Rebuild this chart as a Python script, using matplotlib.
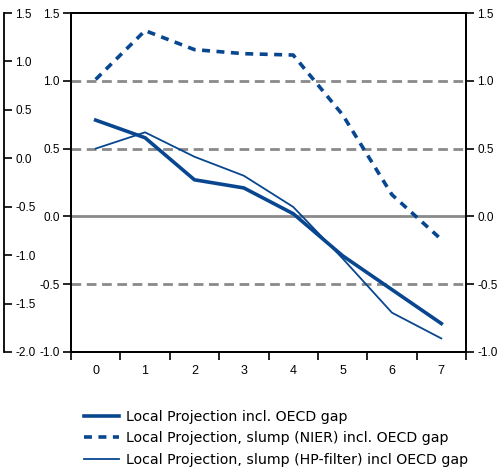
import matplotlib.pyplot as plt
import numpy as np

horizons = ["0", "1", "2", "3", "4", "5", "6", "7"]
lp_gap = [0.71, 0.58, 0.27, 0.21, 0.02, -0.29, -0.54, -0.79]
lp_nier = [1.01, 1.37, 1.23, 1.20, 1.19, 0.75, 0.16, -0.17]
lp_hp = [0.50, 0.62, 0.44, 0.30, 0.07, -0.31, -0.71, -0.90]

labels = ["Local Projection incl. OECD gap",
          "Local Projection, slump (NIER) incl. OECD gap",
          "Local Projection, slump (HP-filter) incl OECD gap"]

blue = "#08478f"
grey = "#8a8a8a"

plt.rcParams["font.family"] = ["Liberation Sans", "DejaVu Sans"]

fig = plt.figure(figsize=(4.99, 4.71), dpi=100)
ax = fig.add_axes([71 / 499, 1 - 352 / 471, 395 / 499, 339 / 471])

x = np.arange(len(horizons))
ax.set_xlim(-0.5, len(horizons) - 0.5)
ax.set_ylim(-1.0, 1.5)

# reference lines
for yv in [1.0, 0.5, -0.5]:
    ax.axhline(yv, color=grey, lw=2, ls=(0, (3.5, 2)), zorder=1)
ax.axhline(0.0, color=grey, lw=2, zorder=1)

l1, = ax.plot(x, lp_gap, color=blue, lw=2.6, zorder=3)
l2, = ax.plot(x, lp_nier, color=blue, lw=2.6, dashes=(2.2, 1.8), zorder=3)
l3, = ax.plot(x, lp_hp, color=blue, lw=1.3, zorder=3)

# x axis: ticks at category boundaries, labels centered
ax.set_xticks(np.arange(-0.5, len(horizons), 1.0))
ax.set_xticklabels([])
ax.set_xticks(x, minor=True)
ax.set_xticklabels(horizons, minor=True)
ax.tick_params(axis="x", which="major", direction="out", length=6, width=1.2)
ax.tick_params(axis="x", which="minor", length=0, pad=9, labelsize=9)

yt = np.arange(-1.0, 1.51, 0.5)
ax.set_yticks(yt)
ax.set_yticklabels([f"{v:.1f}" for v in yt])
ax.tick_params(axis="y", direction="out", length=6, width=1.2, labelsize=8.5,
               pad=2)
for s in ax.spines.values():
    s.set_linewidth(1.3)

# right axis, same scale
axr = ax.twinx()
axr.set_ylim(-1.0, 1.5)
axr.set_yticks(yt)
axr.set_yticklabels([f"{v:.1f}" for v in yt])
axr.tick_params(axis="y", direction="out", length=6, width=1.2, labelsize=8.5,
                pad=2)
for s in axr.spines.values():
    s.set_linewidth(1.3)

# outer left axis, -2.0 to 1.5
axo = ax.twinx()
axo.set_ylim(-2.0, 1.5)
yo = np.arange(-2.0, 1.51, 0.5)
axo.set_yticks(yo)
axo.set_yticklabels([f"{v:.1f}" for v in yo])
axo.spines["right"].set_position(("axes", (4 - 71) / 395))
for k in ["left", "top", "bottom"]:
    axo.spines[k].set_visible(False)
axo.spines["right"].set_linewidth(1.3)
axo.tick_params(axis="y", direction="out", length=6, width=1.2, labelsize=8.5,
                pad=2)

fig.legend([l1, l2, l3], labels, loc="upper left",
           bbox_to_anchor=(77 / 499, 1 - 403 / 471), frameon=False,
           prop={"family": "DejaVu Sans", "size": 10.2}, handlelength=2.45,
           handletextpad=0.5, labelspacing=0.52, borderpad=0)

fig.savefig("out.png", dpi=100)
